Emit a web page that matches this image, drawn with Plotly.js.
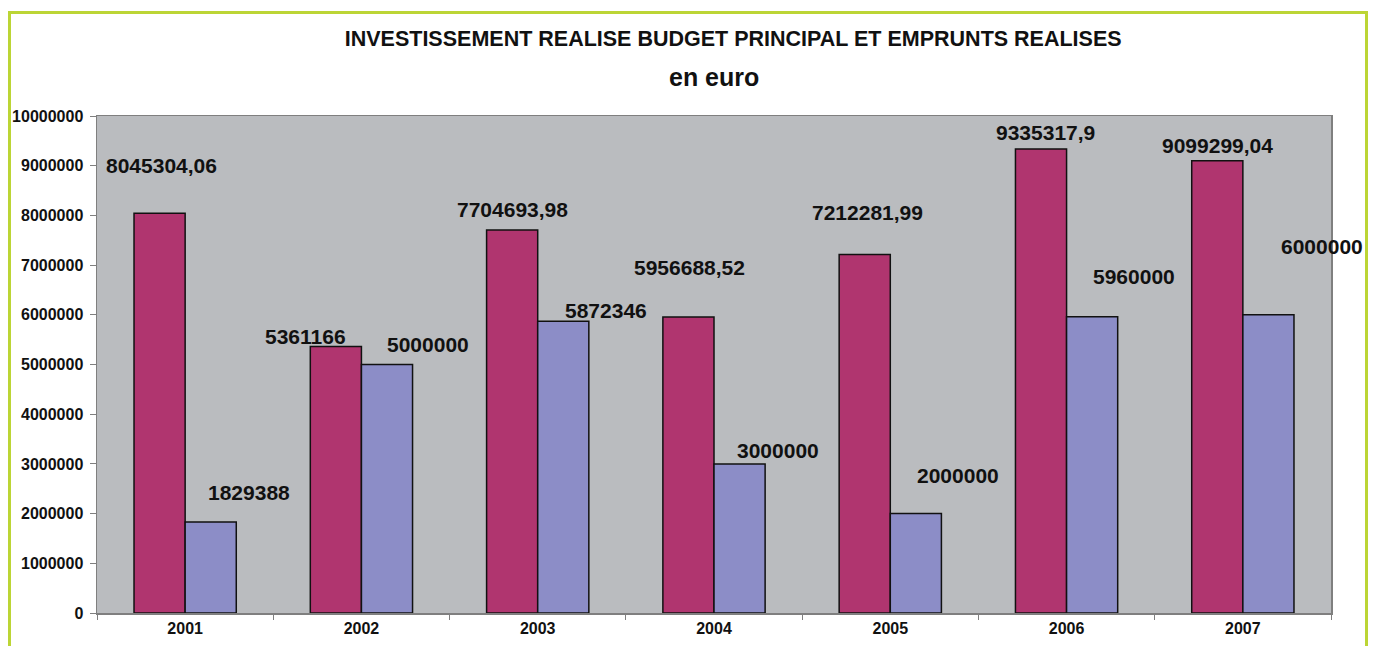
<!DOCTYPE html>
<html>
<head>
<meta charset="utf-8">
<script src="https://cdn.plot.ly/plotly-3.0.1.min.js"></script>
<style>
  html, body { margin: 0; padding: 0; background: #ffffff; overflow: hidden; }
  #wrap { position: relative; width: 1373px; height: 646px; }
  #chart { position: absolute; left: 0; top: 0; width: 1373px; height: 646px; }
  #frame { position: absolute; left: 8px; top: 11px; width: 1360px; height: 700px;
           border: 3px solid #bcd535; pointer-events: none; box-sizing: border-box; }
</style>
</head>
<body>
<div id="wrap">
  <div id="chart"></div>
  <div id="frame"></div>
</div>
<script>
// ---- data ----
const years = ['2001', '2002', '2003', '2004', '2005', '2006', '2007'];
const investissement = [8045304.06, 5361166, 7704693.98, 5956688.52, 7212281.99, 9335317.9, 9099299.04];
const emprunts = [1829388, 5000000, 5872346, 3000000, 2000000, 5960000, 6000000];

// label placement offsets (pixels) relative to category centre / bar top
const invLabelDx = [-24, -56, -25, -25, -23, -21, -25];
const invLabelDy = [48, 10, 21, 49, 42, 17, 15];
const empLabelDx = [64, 67, 68, 64, 68, 67, 79];
const empLabelDy = [30, 20, 11, 13, 38, 40, 68];

const fmt = v => String(v).replace('.', ',');

const labelFont = {family: 'Liberation Sans, Arial, sans-serif', size: 21, color: '#111111'};
const annotations = [];
years.forEach((y, i) => {
  annotations.push({x: i, y: investissement[i], xref: 'x', yref: 'y', text: '<b>' + fmt(investissement[i]) + '</b>',
    showarrow: false, xshift: invLabelDx[i], yshift: invLabelDy[i], xanchor: 'center', yanchor: 'middle', font: labelFont});
  annotations.push({x: i, y: emprunts[i], xref: 'x', yref: 'y', text: '<b>' + fmt(emprunts[i]) + '</b>',
    showarrow: false, xshift: empLabelDx[i], yshift: empLabelDy[i], xanchor: 'center', yanchor: 'middle', font: labelFont});
});
annotations.push({xref: 'paper', yref: 'paper', x: 0.5, y: 1.078, xanchor: 'center', yanchor: 'middle',
  text: '<b>en euro</b>', showarrow: false,
  font: {family: 'Liberation Sans, Arial, sans-serif', size: 25, color: '#111111'}});

const traces = [
  {type: 'bar', name: 'Investissement réalisé', x: years, y: investissement,
   marker: {color: '#b0356f', line: {color: '#111111', width: 1.5}}, hoverinfo: 'x+y'},
  {type: 'bar', name: 'Emprunts réalisés', x: years, y: emprunts,
   marker: {color: '#8c8dc7', line: {color: '#111111', width: 1.5}}, hoverinfo: 'x+y'}
];

const layout = {
  width: 1373, height: 646,
  margin: {l: 97, r: 42, t: 116, b: 33, pad: 0},
  paper_bgcolor: '#ffffff',
  plot_bgcolor: '#babcbf',
  showlegend: false,
  barmode: 'group',
  bargap: 0.42,
  bargroupgap: 0,
  title: {
    text: '<b>INVESTISSEMENT REALISE BUDGET PRINCIPAL ET EMPRUNTS REALISES</b>',
    x: 0.534, xanchor: 'center', xref: 'container',
    y: 1 - 38 / 646, yanchor: 'middle', yref: 'container',
    font: {family: 'Liberation Sans, Arial, sans-serif', size: 21.5, color: '#111111'}
  },
  xaxis: {
    type: 'category',
    range: [-0.5, 6.5],
    autorange: false,
    showgrid: false,
    showline: true, linecolor: '#7f7f7f', linewidth: 1.5, mirror: true,
    ticks: 'outside', tickson: 'boundaries', ticklen: 5, tickcolor: '#7f7f7f',
    tickangle: 0,
    tickfont: {family: 'Liberation Sans, Arial, sans-serif', size: 16, color: '#111111', weight: 'bold'},
    zeroline: false
  },
  yaxis: {
    range: [0, 10000000],
    autorange: false,
    dtick: 1000000, tick0: 0,
    tickformat: 'd',
    showgrid: false, zeroline: false,
    showline: true, linecolor: '#7f7f7f', linewidth: 1.5, mirror: true,
    ticks: 'outside', ticklen: 6, tickcolor: '#7f7f7f',
    ticklabelstandoff: 3,
    tickfont: {family: 'Liberation Sans, Arial, sans-serif', size: 16, color: '#111111', weight: 'bold'}
  },
  annotations: annotations
};

Plotly.newPlot('chart', traces, layout, {displayModeBar: false, staticPlot: true});
</script>
</body>
</html>
